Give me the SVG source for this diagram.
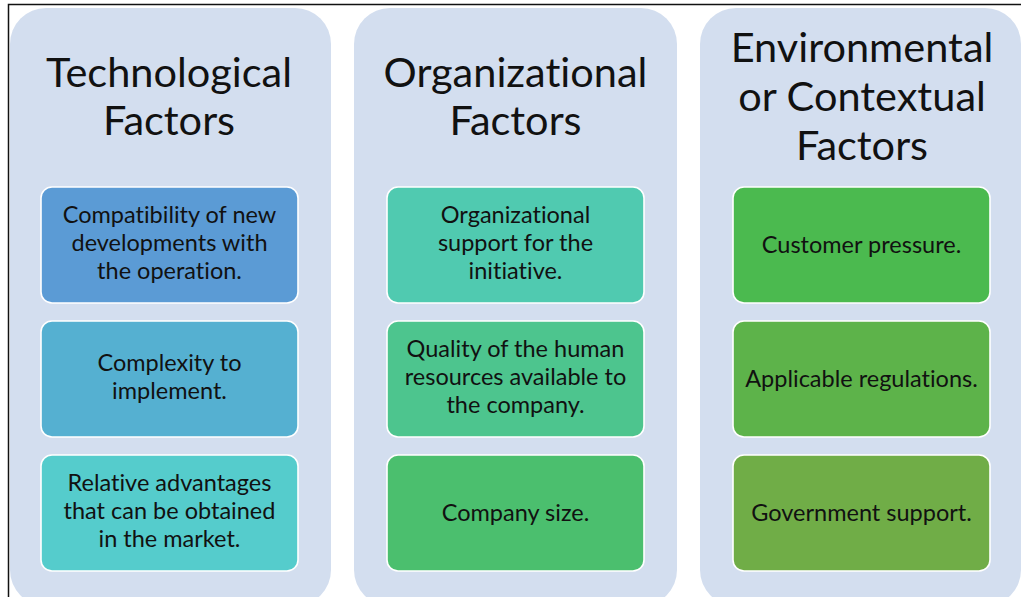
<svg xmlns="http://www.w3.org/2000/svg" width="1021" height="597" viewBox="0 0 1021 597">
  <style>
    .panel { fill: #D3DEEF; }
    .card { stroke: #FFFFFF; stroke-width: 1.6; }
    text { font-family: Lato, "Open Sans", "Liberation Sans", sans-serif; fill: #111111; text-anchor: middle; font-variant-ligatures: none; font-feature-settings: "liga" 0, "dlig" 0; }
    .head { font-size: 41.5px; }
    .body { font-size: 23.5px; }
  </style>

  <rect width="1021" height="597" fill="#FFFFFF"/>
  <!-- page frame -->
  <path d="M8.5 597 V4.5 H1021" fill="none" stroke="#111111" stroke-width="1.5"/>

  <!-- Technological column -->
  <g id="technological">
    <rect class="panel" x="10" y="8" width="321" height="598" rx="36"/>
    <text class="head" x="169" y="87">Technological</text>
    <text class="head" x="169" y="135">Factors</text>
  </g>
  <g id="compatibility">
    <rect class="card" x="41" y="187" width="257" height="116" rx="11" fill="#5B9BD5"/>
    <text class="body" x="169.5" y="223">Compatibility of new</text>
    <text class="body" x="169.5" y="251">developments with</text>
    <text class="body" x="169.5" y="279">the operation.</text>
  </g>
  <g id="complexity">
    <rect class="card" x="41" y="321" width="257" height="116" rx="11" fill="#55B0D1"/>
    <text class="body" x="169.5" y="371">Complexity to</text>
    <text class="body" x="169.5" y="399">implement.</text>
  </g>
  <g id="advantages">
    <rect class="card" x="41" y="455" width="257" height="116" rx="11" fill="#55CCCC"/>
    <text class="body" x="169.5" y="491">Relative advantages</text>
    <text class="body" x="169.5" y="519">that can be obtained</text>
    <text class="body" x="169.5" y="547">in the market.</text>
  </g>

  <!-- Organizational column -->
  <g id="organizational">
    <rect class="panel" x="354" y="8" width="323" height="598" rx="36"/>
    <text class="head" x="515.5" y="87">Organizational</text>
    <text class="head" x="515.5" y="135">Factors</text>
  </g>
  <g id="org-support">
    <rect class="card" x="387" y="187" width="257" height="116" rx="11" fill="#50CAB0"/>
    <text class="body" x="515.5" y="223">Organizational</text>
    <text class="body" x="515.5" y="251">support for the</text>
    <text class="body" x="515.5" y="279">initiative.</text>
  </g>
  <g id="human-resources">
    <rect class="card" x="387" y="321" width="257" height="116" rx="11" fill="#4DC58E"/>
    <text class="body" x="515.5" y="357">Quality of the human</text>
    <text class="body" x="515.5" y="385">resources available to</text>
    <text class="body" x="515.5" y="413">the company.</text>
  </g>
  <g id="company-size">
    <rect class="card" x="387" y="455" width="257" height="116" rx="11" fill="#4BBF6E"/>
    <text class="body" x="515.5" y="521">Company size.</text>
  </g>

  <!-- Environmental column -->
  <g id="environmental">
    <rect class="panel" x="700" y="8" width="321" height="598" rx="36"/>
    <text class="head" x="862" y="62">Environmental</text>
    <text class="head" x="862" y="111">or Contextual</text>
    <text class="head" x="862" y="160">Factors</text>
  </g>
  <g id="customer-pressure">
    <rect class="card" x="733" y="187" width="257" height="116" rx="11" fill="#4BBA4F"/>
    <text class="body" x="861.5" y="253">Customer pressure.</text>
  </g>
  <g id="regulations">
    <rect class="card" x="733" y="321" width="257" height="116" rx="11" fill="#5DB34A"/>
    <text class="body" x="861.5" y="387">Applicable regulations.</text>
  </g>
  <g id="government-support">
    <rect class="card" x="733" y="455" width="257" height="116" rx="11" fill="#70AD47"/>
    <text class="body" x="861.5" y="521">Government support.</text>
  </g>
</svg>
